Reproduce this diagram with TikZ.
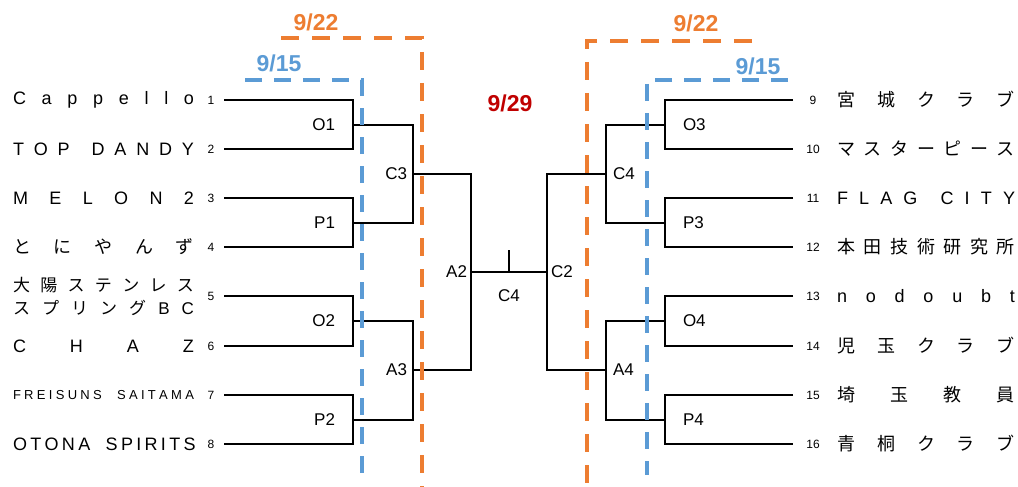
\documentclass[tikz,border=0pt]{standalone}
\usepackage{fontspec}
\setmainfont{Liberation Sans}
\newfontfamily\jp{Noto Sans CJK JP}
\usetikzlibrary{positioning}
\definecolor{dayblue}{RGB}{91,155,213}
\definecolor{dayorange}{RGB}{237,125,49}
\definecolor{dayred}{RGB}{192,0,0}
\newcommand{\spreadname}[2][181pt]{\makebox[#1][s]{#2}}
\newcommand{\wordgap}{\hspace{12pt}}

\begin{document}
\begin{tikzpicture}[x=1pt,y=-1pt,line width=2pt]
\tikzstyle{every node}=[inner sep=0pt]
\tikzstyle{num}=[font=\fontsize{12}{12}\selectfont]
\tikzstyle{team}=[anchor=west,font=\fontsize{18}{24}\selectfont]
\tikzstyle{game}=[font=\fontsize{17}{17}\selectfont]
\tikzstyle{day}=[font=\fontsize{23}{23}\selectfont\bfseries]
\tikzstyle{blueline}=[dayblue,line width=4pt,dash pattern=on 17pt off 12pt]
\tikzstyle{orangeline}=[dayorange,line width=4pt,dash pattern=on 18pt off 13pt]
\useasboundingbox (0,0) rectangle (1018,487);

% left teams
\foreach \i/\y/\name in {1/100/{C a p p e l l o},2/149/{T O P \wordgap D A N D Y},
  3/198/{M E L O N 2},4/247/{\jp と に や ん ず},6/346/{C H A Z},
  8/444/{O T O N A \wordgap S P I R I T S}}{
  \coordinate (t\i) at (224,\y);
  \node[num] (n\i) at (211,\y) {\i};
  \node[team] (name\i) at (12,\y) {\spreadname{\name}};
}
\coordinate (t5) at (224,296);
\node[num] (n5) at (211,296) {5};
\node[team,align=left,font=\fontsize{17}{23}\selectfont\jp] (name5) at (12,296)
  {\spreadname{大 陽 ス テ ン レ ス}\\\spreadname{ス プ リ ン グ {\rmfamily B} {\rmfamily C}}};
\coordinate (t7) at (224,395);
\node[num] (n7) at (211,395) {7};
\node[team,font=\fontsize{13}{13}\selectfont] (name7) at (12,395)
  {\spreadname{F R E I S U N S \wordgap S A I T A M A}};

% right teams
\foreach \i/\y/\name in {9/100/{\jp 宮 城 ク ラ ブ},10/149/{\jp マ ス タ ー ピ ー ス},
  11/198/{F L A G \wordgap C I T Y},12/247/{\jp 本 田 技 術 研 究 所},13/296/{n o d o u b t},
  14/346/{\jp 児 玉 ク ラ ブ},15/395/{\jp 埼 玉 教 員},16/444/{\jp 青 桐 ク ラ ブ}}{
  \coordinate (t\i) at (793,\y);
  \node[num] (n\i) at (813,\y) {\i};
  \node[team] (name\i) at (836,\y) {\spreadname[178pt]{\name}};
}

% games
\coordinate (o1) at (353,124.5);
\coordinate (p1) at (353,222.5);
\coordinate (o2) at (353,321);
\coordinate (p2) at (353,419.5);
\coordinate (c3) at (413,173.5);
\coordinate (a3) at (413,370);
\coordinate (a2) at (471,271.75);
\coordinate (o3) at (665,124.5);
\coordinate (p3) at (665,222.5);
\coordinate (o4) at (665,321);
\coordinate (p4) at (665,419.5);
\coordinate (rc4) at (606,173.5);
\coordinate (a4) at (606,370);
\coordinate (c2) at (547,271.75);
\coordinate (final) at (509,271.75);
\coordinate (tick) at (509,250);

\draw (t1) -| (o1) |- (t2);
\draw (t3) -| (p1) |- (t4);
\draw (t5) -| (o2) |- (t6);
\draw (t7) -| (p2) |- (t8);
\draw (o1) -| (c3) |- (p1);
\draw (o2) -| (a3) |- (p2);
\draw (c3) -| (a2) |- (a3);
\draw (t9) -| (o3) |- (t10);
\draw (t11) -| (p3) |- (t12);
\draw (t13) -| (o4) |- (t14);
\draw (t15) -| (p4) |- (t16);
\draw (o3) -| (rc4) |- (p3);
\draw (o4) -| (a4) |- (p4);
\draw (rc4) -| (c2) |- (a4);
\draw (a2) -- (c2);
\draw (final) -- (tick);

\node[game,left=17pt of o1] {O1};
\node[game,left=17pt of p1] {P1};
\node[game,left=17pt of o2] {O2};
\node[game,left=17pt of p2] {P2};
\node[game,left=5pt of c3] {C3};
\node[game,left=5pt of a3] {A3};
\node[game,left=3pt of a2] {A2};
\node[game,right=3pt of c2] {C2};
\node[game,below=17pt of final] {C4};
\node[game,right=6pt of rc4] {C4};
\node[game,right=6pt of a4] {A4};
\node[game,right=17pt of o3] {O3};
\node[game,right=17pt of p3] {P3};
\node[game,right=17pt of o4] {O4};
\node[game,right=17pt of p4] {P4};

% dates
\draw[blueline] (245,80) -| (362,475);
\draw[orangeline] (281,38) -| (422,487);
\draw[orangeline] (752,41) -| (587,487);
\draw[blueline] (788,80) -| (647,475);
\node[day,text=dayblue] (d15l) at (279,63) {9/15};
\node[day,text=dayorange] (d22l) at (316,22) {9/22};
\node[day,text=dayorange] (d22r) at (696,23) {9/22};
\node[day,text=dayblue] (d15r) at (758,66) {9/15};
\node[day,text=dayred] (d29) at (510,103) {9/29};
\end{tikzpicture}
\end{document}
